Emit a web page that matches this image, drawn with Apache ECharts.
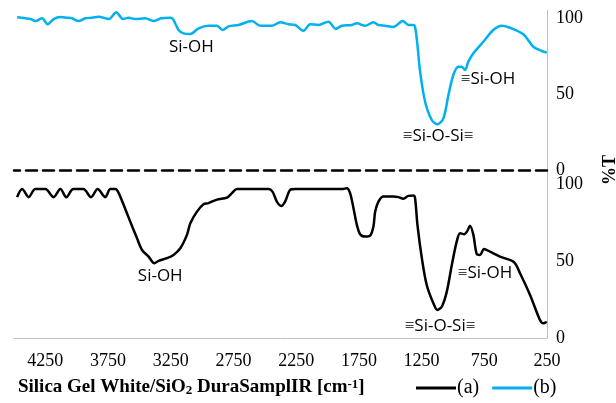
<!DOCTYPE html>
<html><head><meta charset="utf-8">
<script src="https://cdn.jsdelivr.net/npm/echarts@6/dist/echarts.min.js"></script>
<style>html,body{margin:0;padding:0;background:#fff}#c{width:616px;height:403px}</style>
</head><body><div id="c"></div>
<script>
// Sample (b) – top trace (light blue)
const waveB = [4475,4409,4369,4330,4276,4232,4184,4130,4077,4037,3985,3931,3878,3825,3745,3684,3631,3586,3533,3453,3387,3327,3247,3228,3188,3148,3094,3028,2949,2882,2837,2789,2710,2603,2537,2444,2377,2311,2258,2192,2138,2072,1993,1934,1886,1806,1766,1700,1634,1594,1541,1475,1400,1355,1315,1302,1283,1262,1222,1169,1124,1076,1036,997,957,930,903,877,837,758,678,611,545,439,359,292,252];
const transB = [100.5,99.8,99.3,98.0,99.8,95.9,99.3,100.7,100.2,99.8,98.0,99.8,100.2,100.9,99.3,103.8,99.3,100.2,99.3,99.8,98.0,99.8,100.2,98.7,92.1,89.9,89.5,93.2,94.9,94.9,92.1,94.5,95.4,98.0,94.9,94.9,97.2,95.9,95.4,91.6,95.9,95.4,97.6,92.8,94.9,95.4,96.5,94.9,97.2,95.4,94.9,94.1,98.0,95.4,95.4,94.3,82.2,64.7,44.9,32.9,30.1,34.0,49.3,62.5,68.0,68.0,65.8,71.3,76.8,84.4,92.1,94.9,93.6,89.3,81.1,78.3,77.2];
// Sample (a) – bottom trace (black)
const waveA = [4475,4435,4383,4330,4250,4184,4130,4083,4027,3947,3886,3833,3772,3732,3692,3668,3626,3573,3519,3479,3427,3381,3347,3280,3228,3174,3121,3094,3041,2989,2949,2882,2802,2762,2722,2471,2439,2404,2369,2338,2298,2258,1886,1846,1820,1793,1766,1740,1700,1660,1634,1620,1594,1554,1475,1435,1395,1355,1315,1302,1283,1248,1209,1156,1124,1089,1049,1009,970,943,911,885,864,837,810,784,752,704,625,513,465,385,306,279,252];
const transA = [91.4,96.6,91.4,96.6,96.6,91.4,96.6,91.4,96.6,96.6,91.4,96.6,91.4,96.6,96.6,94.5,86.4,75.5,64.7,57.1,52.8,48.5,50,51.8,53.9,58.2,66.9,74.5,82,86.8,87.5,89.8,91.1,94,96.6,96.6,95,88.5,85.7,88.5,96.1,96.6,96.6,97.2,94,84.2,73.4,67.3,65.8,66.4,72.3,82,88.5,91.8,91.8,91.4,90.3,92.2,92.4,90.7,73.4,51.8,34.4,22.5,18.2,20.3,30.1,47.4,62.5,68,67.3,69.5,72.9,66.9,54.4,53.9,57.8,56,52.8,49.2,42,27.9,11.7,9.5,10.6];
// Peak annotations [wavenumber, %T, text]
const annotB = [[3086,80.9,'Si-OH'],[720,59.9,'\u2261Si-OH'],[1118,22.4,'\u2261Si-O-Si\u2261']];
const annotA = [[3334,40.3,'Si-OH'],[744,42.2,'\u2261Si-OH'],[1103,7.8,'\u2261Si-O-Si\u2261']];
const seriesNames = ['(a)','(b)'];

const serif = 'Liberation Serif';
const sans = 'Open Sans';
const zip = (xs, ys) => xs.map((x, i) => [x, ys[i]]);
const annot = arr => ({
  symbol: 'rect', symbolSize: 1, silent: true,
  itemStyle: {color: 'rgba(0,0,0,0)'},
  label: {show: true, position: 'inside', formatter: '{b}', color: '#000', fontFamily: sans, fontSize: 17},
  data: arr.map(a => ({coord: [a[0], a[1]], name: a[2]}))
});

const chart = echarts.init(document.getElementById('c'));
chart.setOption({
  animation: false,
  backgroundColor: '#fff',
  title: {
    left: 13, top: 373,
    text: 'Silica Gel White/SiO{sub|2} DuraSamplIR [cm{sup|-1}]',
    textStyle: {
      fontFamily: serif, fontWeight: 'bold', fontSize: 19, color: '#000',
      rich: {
        sub: {fontFamily: serif, fontWeight: 'bold', fontSize: 13, verticalAlign: 'bottom', padding: [6,0,0,0]},
        sup: {fontFamily: serif, fontWeight: 'bold', fontSize: 13, verticalAlign: 'top', padding: [0,0,6,0]}
      }
    }
  },
  legend: {
    data: seriesNames, left: 411, top: 373, icon: 'rect', itemWidth: 40, itemHeight: 3, itemGap: 13,
    textStyle: {fontFamily: serif, fontSize: 20, color: '#000', padding: [0,0,0,-4]}
  },
  grid: [
    {left: 14, right: 69, top: 170, bottom: 65},
    {left: 14, right: 69, top: 10.4, bottom: 233}
  ],
  xAxis: [
    {gridIndex: 0, type: 'value', min: 250, max: 4500, interval: 500, inverse: true,
     axisLine: {lineStyle: {color: '#BFBFBF', width: 1}}, axisTick: {show: false}, splitLine: {show: false},
     axisLabel: {showMaxLabel: false, margin: 14, fontFamily: serif, fontSize: 18, color: '#000',
       formatter: v => (v > 4400 ? '' : String(v))}},
    {gridIndex: 1, type: 'value', min: 250, max: 4500, interval: 500, inverse: true,
     axisLine: {lineStyle: {color: '#000', width: 2.5, type: [11, 6]}}, axisTick: {show: false},
     splitLine: {show: false}, axisLabel: {show: false}}
  ],
  yAxis: [
    {gridIndex: 0, type: 'value', position: 'right', min: 0, max: 109, interval: 50,
     axisLine: {show: true, lineStyle: {color: '#BFBFBF', width: 1}}, axisTick: {show: false}, splitLine: {show: false},
     axisLabel: {showMaxLabel: false, margin: 9, fontFamily: serif, fontSize: 18, color: '#000',
       formatter: v => (v > 105 ? '' : String(v))}},
    {gridIndex: 1, type: 'value', position: 'right', min: 0, max: 105, interval: 50,
     axisLine: {show: true, lineStyle: {color: '#BFBFBF', width: 1}}, axisTick: {show: false}, splitLine: {show: false},
     axisLabel: {showMaxLabel: false, margin: 9, fontFamily: serif, fontSize: 18, color: '#000',
       formatter: v => (v > 101 ? '' : String(v))}}
  ],
  graphic: [{
    type: 'text', x: 601, y: 170, rotation: Math.PI / 2,
    style: {text: '%T', fontFamily: serif, fontWeight: 'bold', fontSize: 18, fill: '#000', align: 'center', verticalAlign: 'top'}
  }],
  series: [
    {name: seriesNames[0], type: 'line', xAxisIndex: 0, yAxisIndex: 0, data: zip(waveA, transA),
     showSymbol: false, smooth: 0.3, lineStyle: {color: '#000', width: 2.5}, itemStyle: {color: '#000'},
     markPoint: annot(annotA)},
    {name: seriesNames[1], type: 'line', xAxisIndex: 1, yAxisIndex: 1, data: zip(waveB, transB),
     showSymbol: false, smooth: 0.3, lineStyle: {color: '#00B0F0', width: 2.5}, itemStyle: {color: '#00B0F0'},
     markPoint: annot(annotB)}
  ]
});
</script></body></html>
